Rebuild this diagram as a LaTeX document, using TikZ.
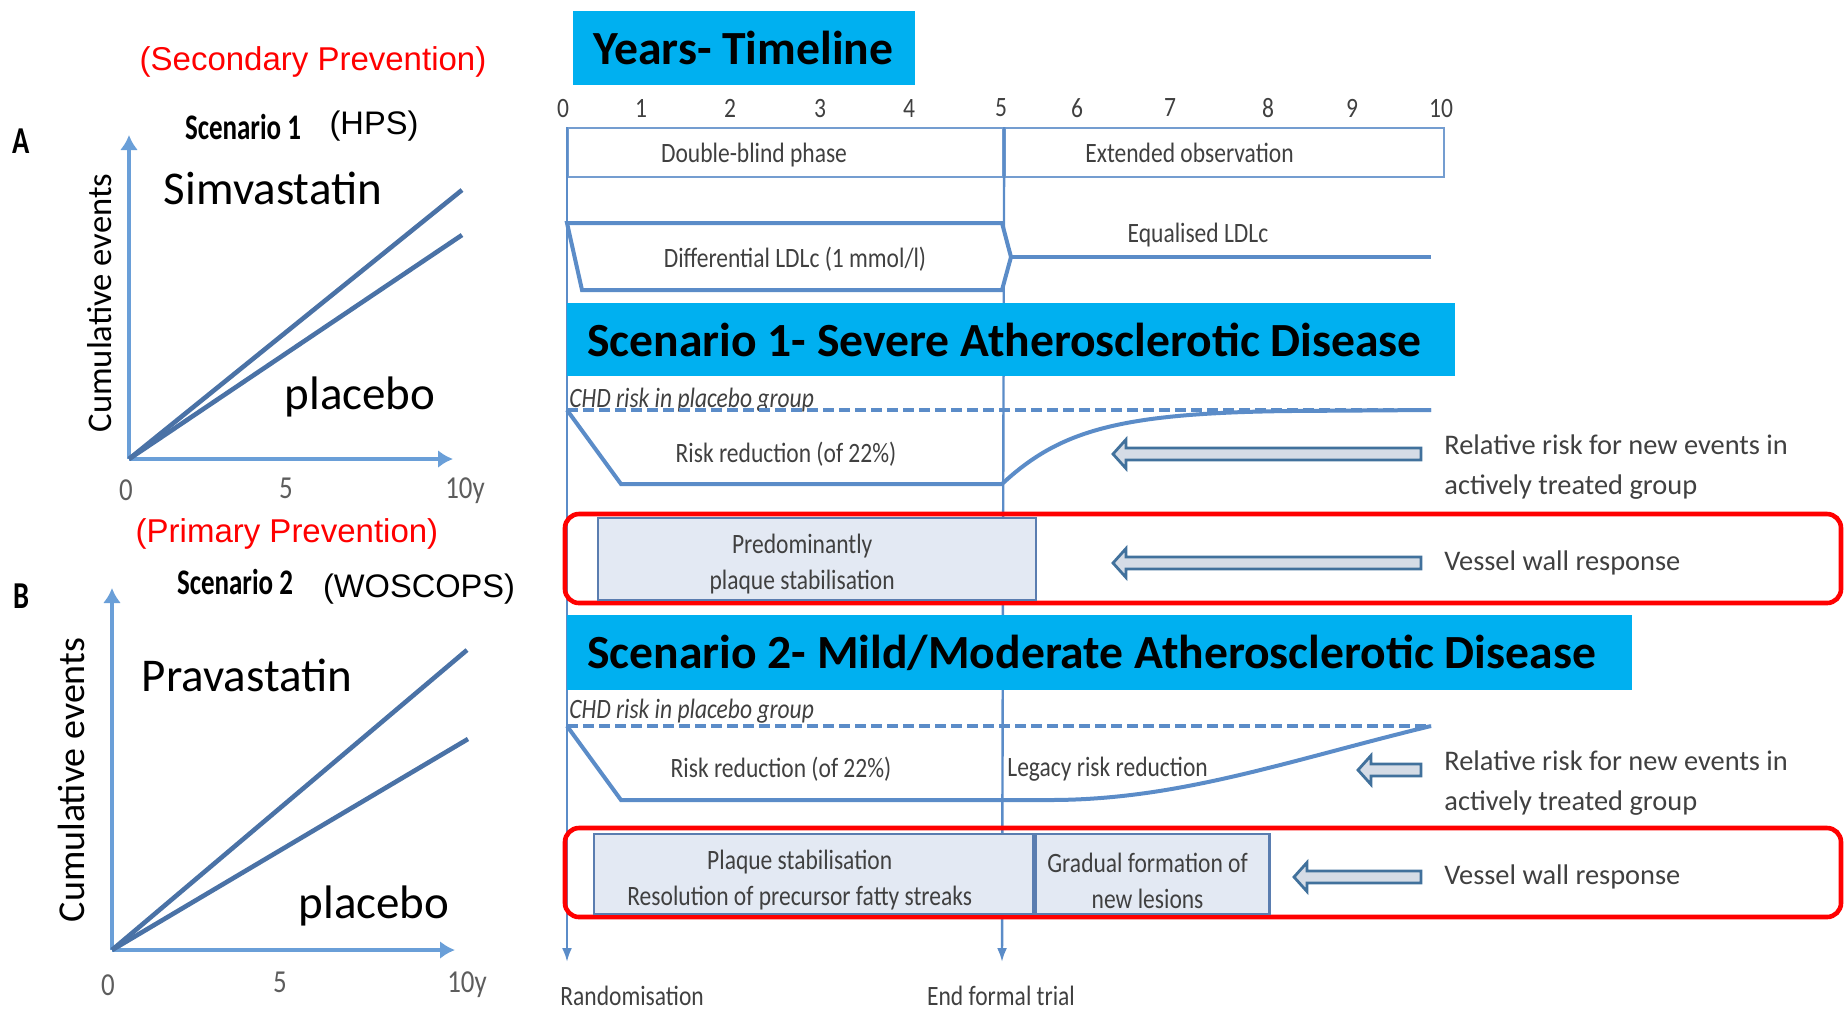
\documentclass[tikz,border=0pt]{standalone}
\usepackage{fontspec}
\setmainfont{Carlito}
\newfontfamily\arialfont{Liberation Sans}
\newfontfamily\narrowfont[FakeStretch=0.84]{Carlito}
\newfontfamily\scenfont[FakeStretch=0.75]{Carlito}
\usetikzlibrary{arrows.meta, positioning, calc}
\definecolor{tblue}{HTML}{5B8CC8}
\definecolor{axblue}{HTML}{6A9FD8}
\definecolor{plotblue}{HTML}{4A72A6}
\definecolor{darrow}{HTML}{41719C}
\definecolor{afill}{HTML}{D5DCE6}
\definecolor{bcyan}{HTML}{00B0F0}
\definecolor{boxfill}{HTML}{E3E9F3}
\definecolor{boxline}{HTML}{5A7DB0}
\definecolor{sred}{HTML}{FF0000}
\definecolor{tgray}{HTML}{404040}
\tikzset{
  >=Latex,
  axis/.style={draw=axblue, line width=2.2pt, -{Latex[length=7.5pt,width=9pt]}},
  plotline/.style={draw=plotblue, line width=2.3pt},
  panel/.style={font=\scenfont\bfseries\fontsize{19}{20}\selectfont, inner sep=0pt},
  trial/.style={font=\arialfont\fontsize{16.3}{18}\selectfont, inner sep=0pt},
  prev/.style={font=\arialfont\fontsize{16.5}{18}\selectfont, text=sred, inner sep=0pt},
  scen/.style={font=\scenfont\bfseries\fontsize{18}{20}\selectfont, inner sep=0pt},
  drug/.style={font=\fontsize{23.5}{26}\selectfont, inner sep=0pt},
  ylab/.style={rotate=90, inner sep=0pt, font=\fontsize{#1}{20}\selectfont},
  tick/.style={font=\narrowfont\fontsize{16}{18}\selectfont, text=tgray!85, inner sep=0pt},
  lab/.style={font=\narrowfont\fontsize{14}{17}\selectfont, text=tgray, inner sep=0pt, align=center},
  wlab/.style={font=\narrowfont\fontsize{14}{18}\selectfont, text=tgray, inner sep=0pt, align=center},
  chdlab/.style={font=\narrowfont\itshape\fontsize{14}{17}\selectfont, text=tgray, inner sep=0pt, anchor=west},
  note/.style={font=\fontsize{14.2}{20}\selectfont, text=tgray, inner sep=0pt, align=flush left, anchor=west},
  banner/.style={fill=bcyan, anchor=north west, inner xsep=10pt, inner ysep=0pt,
    text width=#1, align=flush left, minimum height=37pt, font=\bfseries\fontsize{23.8}{26}\selectfont},
  phase/.style={draw=tblue!85, line width=1.1pt, anchor=north west, minimum height=24.5pt,
    inner ysep=0pt, align=flush left, text height=10pt, text depth=0pt,
    font=\narrowfont\fontsize{14}{17}\selectfont, text=tgray},
  tline/.style={draw=tblue, line width=1.2pt},
  ldl/.style={draw=tblue, line width=2pt},
  risk/.style={draw=tblue, line width=2pt},
  chd/.style={draw=tblue, line width=2.3pt, dash pattern=on 5.5pt off 2.5pt},
  redbox/.style={draw=sred, line width=2.3pt, rounded corners=7pt},
  wall/.style={fill=boxfill, draw=boxline, line width=1.2pt, anchor=north west, inner sep=0pt},
  hollow/.style={draw=darrow, fill=afill, line width=1.4pt}
}
% block arrow pointing left: tail point, shaft length
\newcommand{\hollowarrow}[2]{%
  \draw[hollow] (#1) ++(0,-6) -- ++(-#2,0) -- ++(0,-8.5) -- ++(-13,14.5)
    -- ++(13,14.5) -- ++(0,-8.5) -- ++(#2,0) -- cycle;}

\begin{document}
\begin{tikzpicture}[x=0.5pt, y=-0.5pt]
  \useasboundingbox (0,0) rectangle (1844,1009);

  % panel A
  \node[prev] (prevA) at (313,62) {(Secondary Prevention)};
  \node[panel] (labA) at (21,141) {A};
  \node[scen] (scenA) at (243,127) {Scenario 1};
  \node[trial] (hps) at (374,126) {(HPS)};
  \coordinate (oA) at (129,459);
  \coordinate (yA) at (129,135);
  \coordinate (xA) at (453,459);
  \draw[axis] (oA) -- (yA);
  \draw[axis] (oA) -- (xA);
  \coordinate (simA) at (462,190);
  \coordinate (plaA) at (462,235);
  \draw[plotline] (oA) -- (simA);
  \draw[plotline] (oA) -- (plaA);
  \node[ylab=17.3] (cumA) at (100,303) {Cumulative events};
  \node[drug] (simv) at (273,188) {Simvastatin};
  \node[drug] (placA) at (360,397) {placebo};
  \node[tick] at (126,490) {0};
  \node[tick] at (286,488) {5};
  \node[tick] at (465,491) {10y};

  % panel B
  \node[prev] (prevB) at (287,534) {(Primary Prevention)};
  \node[panel] (labB) at (21,596) {B};
  \node[scen] (scenB) at (235,582) {Scenario 2};
  \node[trial] (wos) at (419,589) {(WOSCOPS)};
  \coordinate (oB) at (112,950);
  \coordinate (yB) at (112,588);
  \coordinate (xB) at (455,950);
  \draw[axis] (oB) -- (yB);
  \draw[axis] (oB) -- (xB);
  \coordinate (praB) at (467,650);
  \coordinate (plaB) at (468,739);
  \draw[plotline] (oB) -- (praB);
  \draw[plotline] (oB) -- (plaB);
  \node[ylab=19] (cumB) at (71,780) {Cumulative events};
  \node[drug] (prav) at (247,675) {Pravastatin};
  \node[drug] (placB) at (374,906) {placebo};
  \node[tick] at (108,985) {0};
  \node[tick] at (280,982) {5};
  \node[tick] at (467,985) {10y};

  % timeline
  \node[banner=151pt] (years) at (573,11) {Years- Timeline};
  \foreach \x/\n in {563/0, 641/1, 730/2, 820/3, 909/4, 1001/5, 1077/6, 1170/7, 1268/8, 1352/9, 1441/10}
    \node[lab] at (\x,108) {\n};
  \node[phase, inner xsep=46.5pt, text width=124.5pt] (dbl) at (567,127) {Double-blind phase};
  \node[phase, inner xsep=40pt, text width=139.5pt] (ext) at (dbl.north east) {Extended observation};
  \coordinate (randtip) at (567,962);
  \coordinate (endtip) at (1002,962);
  \draw[tline, -{Latex[length=7pt,width=5pt]}] (dbl.north west) -- (randtip);
  \draw[tline, -{Latex[length=7pt,width=5pt]}] (dbl.north east) -- (endtip);
  \node[lab, anchor=west] (rand) at (560,996) {Randomisation};
  \node[lab] (endt) at (1001,996) {End formal trial};

  % LDLc
  \draw[ldl, fill=white] (567,223) -- (1002,223) -- (1011,257) -- (1002,290) -- (582,290) -- cycle;
  \draw[ldl] (1011,257) -- (1431,257);
  \node[lab] (difl) at (795,259) {Differential LDLc (1 mmol/l)};
  \node[lab] (eql) at (1198,235) {Equalised LDLc};

  % scenario 1
  \node[banner=424pt, minimum height=36.5pt] (sc1) at (567,303) {Scenario 1- Severe Atherosclerotic Disease};
  \node[chdlab] (chd1) at (569,400) {CHD risk in placebo group};
  \draw[chd] (567,410) -- (1431,410);
  \draw[risk] (567,410) -- (621,484) -- (1002,484) .. controls (1060,430) and (1120,413) .. (1290,411) -- (1431,410);
  \node[lab] (rr1) at (786,454) {Risk reduction (of 22\%)};
  \node[note] (rel1) at (1444,467) {Relative risk for new events in\\actively treated group};
  \hollowarrow{[shift={(-23,-13)}]rel1.west}{295}
  \draw[redbox] (565,514) rectangle (1841,603);
  \node[wall, minimum width=219pt, minimum height=41pt] (stab1) at (597,517) {};
  \node[wlab] at ([shift={(-15,5)}]stab1.center) {Predominantly\\plaque stabilisation};
  \node[note] (vw1) at (1444,563) {Vessel wall response};
  \hollowarrow{[xshift=-11.5pt]vw1.west}{295}

  % scenario 2
  \node[banner=512.5pt, minimum height=37.5pt] (sc2) at (567,615) {Scenario 2- Mild/Moderate Atherosclerotic Disease};
  \node[chdlab] (chd2) at (569,711) {CHD risk in placebo group};
  \draw[chd] (567,726) -- (1431,726);
  \draw[risk] (567,726) -- (621,800) -- (1050,800) .. controls (1180,800) and (1290,760) .. (1431,726);
  \node[lab] (rr2) at (781,769) {Risk reduction (of 22\%)};
  \node[lab, anchor=west] (legacy) at (1007,769) {Legacy risk reduction};
  \node[note] (rel2) at (1444,783) {Relative risk for new events in\\actively treated group};
  \hollowarrow{[shift={(-23,-13)}]rel2.west}{50}
  \draw[redbox] (565,828) rectangle (1841,917);
  \node[wall, minimum width=219.5pt, minimum height=40pt] (stab2) at (593,833) {};
  \node[wall, minimum width=117pt, minimum height=40pt] (lesion) at (stab2.north east) {};
  \node[wlab] at ([shift={(-14,6)}]stab2.center) {Plaque stabilisation\\Resolution of precursor fatty streaks};
  \node[wlab] at ([shift={(-5,7)}]lesion.center) {Gradual formation of\\new lesions};
  \node[note] (vw2) at (1444,877) {Vessel wall response};
  \hollowarrow{[xshift=-11.5pt]vw2.west}{114}
\end{tikzpicture}
\end{document}
